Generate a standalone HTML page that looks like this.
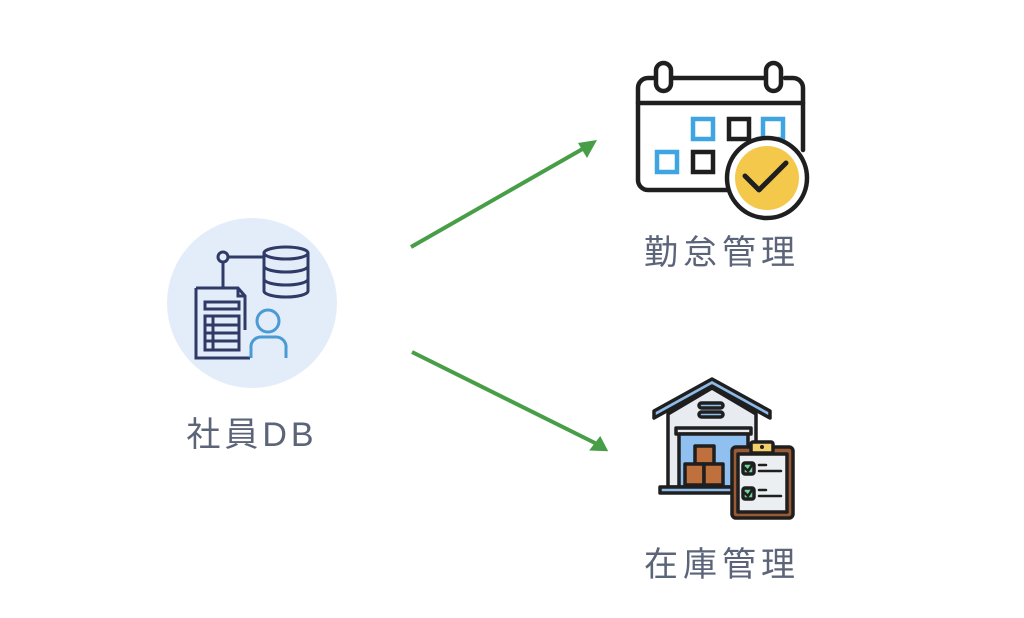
<!DOCTYPE html>
<html><head><meta charset="utf-8"><style>
html,body{margin:0;padding:0;background:#fff;}
.t{font-family:"Liberation Sans","Noto Sans CJK JP",sans-serif;fill:#5b6478;}
</style></head><body>
<svg width="1024" height="613" viewBox="0 0 1024 613" xmlns="http://www.w3.org/2000/svg">
<rect width="1024" height="613" fill="#fff"/>
<!-- left node -->
<circle cx="252" cy="303" r="85" fill="#e3edf9"/>
<g fill="none" stroke="#2f3a66" stroke-width="3">
<circle cx="223" cy="257" r="5"/>
<line x1="228" y1="257" x2="264" y2="257"/>
<line x1="223" y1="262" x2="223" y2="288"/>
<ellipse cx="286" cy="253" rx="22" ry="6"/>
<path d="M264 253 V291 A22 6 0 0 0 308 291 V253"/>
<path d="M264 266 A22 6 0 0 0 308 266 M264 279 A22 6 0 0 0 308 279"/>
<path d="M196 288 H238 L245 296 V330 M196 288 V358 H250"/>
<path d="M238 288 V296 H245"/>
<rect x="205" y="302" width="34" height="7"/>
<rect x="205" y="316" width="34" height="34"/>
<line x1="205" y1="325" x2="239" y2="325"/><line x1="205" y1="333" x2="239" y2="333"/><line x1="205" y1="341" x2="239" y2="341"/>
<line x1="213" y1="316" x2="213" y2="350"/>
</g>
<g fill="#e3edf9" stroke="#4a9ad6" stroke-width="3">
<circle cx="268" cy="321" r="11"/>
<path d="M251 358 V348 A10 10 0 0 1 261 337 H276 A10 10 0 0 1 286 348 V358"/>
</g>
<text x="252" y="446" text-anchor="middle" class="t" font-size="34" letter-spacing="4">社員DB</text>
<!-- arrows -->
<g stroke="#479e47" stroke-width="4" fill="#479e47">
<line x1="411" y1="247" x2="586" y2="147"/>
<line x1="412" y1="352" x2="597" y2="444"/>
</g>
<polygon points="597,140 578,143 587,158" fill="#479e47"/>
<polygon points="609,450 590,452 599,436" fill="#479e47" transform="rotate(8 600 445)"/>
<!-- calendar -->
<g fill="none" stroke="#1f1f1f" stroke-width="4.5" stroke-linecap="round">
<path d="M740 190 H648 A10 10 0 0 1 638 180 V88 A10 10 0 0 1 648 78 H654 M673 78 H764 M785 78 H793 A10 10 0 0 1 803 88 V150"/>
<line x1="638" y1="103" x2="803" y2="103"/>
<rect x="656" y="63" width="15" height="28" rx="7.5"/>
<rect x="766" y="63" width="15" height="28" rx="7.5"/>
<rect x="729" y="119" width="20" height="20"/>
<rect x="693" y="152" width="20" height="20"/>
</g>
<g fill="none" stroke="#3fa4e2" stroke-width="4.5">
<rect x="693" y="119" width="20" height="20"/>
<rect x="763" y="119" width="20" height="20"/>
<rect x="657" y="152" width="20" height="20"/>
</g>
<circle cx="767" cy="178" r="40" fill="#fff" stroke="#1f1f1f" stroke-width="4.5"/>
<circle cx="767" cy="178" r="32" fill="#f4c94b"/>
<path d="M745 176 L759 190 L786 163" fill="none" stroke="#1f1f1f" stroke-width="5" stroke-linecap="round" stroke-linejoin="round"/>
<text x="722" y="264" text-anchor="middle" class="t" font-size="34" letter-spacing="5">勤怠管理</text>
<!-- warehouse -->
<g stroke="#1f1f1f" stroke-width="3.5" stroke-linejoin="round">
<path d="M668 487 V414 L712 388 L756 414 V487 Z" fill="#e8ecf0"/>
<path d="M654 411 L712 379 L770 411 L770 418 L712 386 L654 418 Z" fill="#8fbbe8"/>
<rect x="699" y="403" width="24" height="5" rx="2.5" fill="#8fbbe8"/>
<rect x="699" y="412" width="24" height="5" rx="2.5" fill="#8fbbe8"/>
<rect x="676" y="428" width="75" height="6" fill="#e8ecf0"/>
<rect x="679" y="434" width="69" height="53" fill="#8fc0f0"/>
<rect x="695" y="446" width="19" height="18" fill="#c0703c"/>
<rect x="685" y="464" width="19" height="21" fill="#c0703c"/>
<rect x="704" y="464" width="19" height="21" fill="#c0703c"/>
<rect x="660" y="487" width="85" height="6" fill="#8fbbe8"/>
<rect x="732" y="447" width="61" height="71" rx="4" fill="#9a5a34"/>
<rect x="738" y="454" width="49" height="58" fill="#eceff2"/>
<rect x="751" y="442" width="22" height="11" rx="2" fill="#f4d06a"/>
<rect x="743" y="463" width="11" height="11" rx="2" fill="#6fd39a"/>
<rect x="743" y="488" width="11" height="11" rx="2" fill="#6fd39a"/>
</g>
<circle cx="762" cy="447" r="2" fill="#1f1f1f"/>
<g stroke="#1f1f1f" stroke-width="2.5" stroke-linecap="round" fill="none">
<path d="M745 468 L748 471 L752 465 M745 493 L748 496 L752 490"/>
<path d="M759 465 H766 M759 471 H781 M759 490 H766 M759 496 H781"/>
</g>
<text x="722" y="576" text-anchor="middle" class="t" font-size="34" letter-spacing="5">在庫管理</text>
</svg>
</body></html>
